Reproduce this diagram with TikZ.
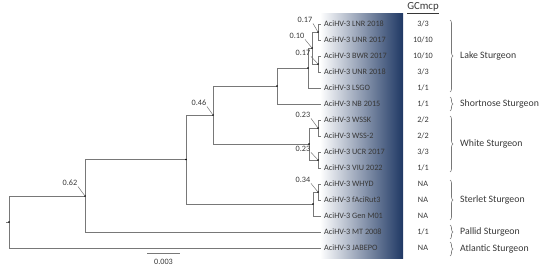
\documentclass[tikz,border=0pt]{standalone}
\usepackage{fontspec}
\setmainfont{Carlito}
\usetikzlibrary{decorations.pathreplacing,calc}
\definecolor{navyg}{RGB}{31,56,100}
\definecolor{midblue}{RGB}{165,186,216}
\definecolor{treeg}{RGB}{120,120,120}
\definecolor{txt}{RGB}{55,55,55}
\begin{document}
\begin{tikzpicture}[x=1pt,y=-1pt,
  br/.style={draw=treeg,line width=0.7pt},
  leaf/.style={anchor=west,inner xsep=3pt,inner ysep=0pt,font=\fontsize{8.2}{9}\selectfont,text=txt},
  gc/.style={font=\fontsize{8.2}{9}\selectfont,text=txt,inner sep=0pt},
  boot/.style={font=\fontsize{8.2}{9}\selectfont,text=txt,inner sep=0.5pt},
  lead/.style={draw=treeg,line width=0.5pt},
  grp/.style={anchor=west,font=\fontsize{9.8}{10}\selectfont,text=txt,inner sep=0pt},
  brc/.style={draw=treeg,line width=0.6pt,decorate,decoration={brace,amplitude=3pt}},
  dot/.style={fill=black,circle,inner sep=0pt,minimum size=1.6pt}]
\useasboundingbox (0,0) rectangle (550,270);
% gradient column
\shade[left color=white,middle color=midblue,right color=navyg] (320,14) rectangle (403,258);
% internal nodes
\coordinate (rootstub) at (6,222);
\coordinate (root) at (9,222);
\coordinate (n062) at (85,196);
\coordinate (na) at (186,159.5);
\coordinate (n046) at (213,115);
\coordinate (nls) at (277,86);
\coordinate (nlake) at (308,68);
\coordinate (n010) at (312,48);
\coordinate (n017a) at (318,32);
\coordinate (n017b) at (318,64);
\coordinate (nw) at (309,144);
\coordinate (n023a) at (318,128);
\coordinate (n023b) at (318,160);
\coordinate (nst) at (313,204);
\coordinate (n034) at (318,192);
% leaves
\node[leaf] (l1) at (321,24) {AciHV-3 LNR 2018};
\node[leaf] (l2) at (321,40) {AciHV-3 UNR 2017};
\node[leaf] (l3) at (321,56) {AciHV-3 BWR 2017};
\node[leaf] (l4) at (321,72) {AciHV-3 UNR 2018};
\node[leaf] (l5) at (321,88) {AciHV-3 LSGO};
\node[leaf] (l6) at (321,104) {AciHV-3 NB 2015};
\node[leaf] (l7) at (321,120) {AciHV-3 WSSK};
\node[leaf] (l8) at (321,136) {AciHV-3 WSS-2};
\node[leaf] (l9) at (321,152) {AciHV-3 UCR 2017};
\node[leaf] (l10) at (321,168) {AciHV-3 VIU 2022};
\node[leaf] (l11) at (321,184) {AciHV-3 WHYD};
\node[leaf] (l12) at (321,200) {AciHV-3 fAciRut3};
\node[leaf] (l13) at (321,216) {AciHV-3 Gen M01};
\node[leaf] (l14) at (321,232) {AciHV-3 MT 2008};
\node[leaf] (l15) at (321,248) {AciHV-3 JABEPO};
% branches
\draw[br] (rootstub) -- (root);
\draw[br] (root) |- (n062);
\draw[br] (root) |- (l15.west);
\draw[br] (n062) |- (na);
\draw[br] (n062) |- (l14.west);
\draw[br] (na) |- (n046);
\draw[br] (na) |- (nst);
\draw[br] (n046) |- (nls);
\draw[br] (n046) |- (nw);
\draw[br] (nls) |- (nlake);
\draw[br] (nls) |- (l6.west);
\draw[br] (nlake) |- (n010);
\draw[br] (nlake) |- (l5.west);
\draw[br] (n010) |- (n017a);
\draw[br] (n010) |- (n017b);
\draw[br] (n017a) |- (l1.west);
\draw[br] (n017a) |- (l2.west);
\draw[br] (n017b) |- (l3.west);
\draw[br] (n017b) |- (l4.west);
\draw[br] (nw) |- (n023a);
\draw[br] (nw) |- (n023b);
\draw[br] (n023a) |- (l7.west);
\draw[br] (n023a) |- (l8.west);
\draw[br] (n023b) |- (l9.west);
\draw[br] (n023b) |- (l10.west);
\draw[br] (nst) |- (n034);
\draw[br] (nst) |- (l13.west);
\draw[br] (n034) |- (l11.west);
\draw[br] (n034) |- (l12.west);
% node dots
\foreach \n in {root,n062,na,n046,nls,nlake,n010,n017a,n017b,nw,n023a,n023b,nst,n034}
  \node[dot] at (\n) {};
% support values
\node[boot] (b062) at (70,183) {0.62};
\node[boot] (b046) at (199,103) {0.46};
\node[boot] (b017a) at (305,20) {0.17};
\node[boot] (b010) at (297,36) {0.10};
\node[boot] (b017b) at (303,53) {0.17};
\node[boot] (b023a) at (303,115) {0.23};
\node[boot] (b023b) at (303,149) {0.23};
\node[boot] (b034) at (303,180) {0.34};
\draw[lead] (b062.south east) -- (n062);
\draw[lead] (b046.south east) -- (n046);
\draw[lead] (b017a.south east) -- (n017a);
\draw[lead] (b010.south east) -- (n010);
\draw[lead] (b017b.south east) -- (n017b);
\draw[lead] (b023a.south east) -- (n023a);
\draw[lead] (b023b.south east) -- (n023b);
\draw[lead] (b034.south east) -- (n034);
% GCmcp column
\node[font=\fontsize{10.8}{11}\selectfont,text=txt,inner sep=0pt] (gch) at (423,8) {\underline{GCmcp}};
\foreach \y/\v [count=\i] in {24/3\slash 3,40/10\slash 10,56/10\slash 10,72/3\slash 3,88/1\slash 1,104/1\slash 1,120/2\slash 2,136/2\slash 2,152/3\slash 3,168/1\slash 1,184/NA,200/NA,216/NA,232/1\slash 1,248/NA}
  \node[gc] (g\i) at (423,\y) {\v};
% braces
\coordinate (ba1) at (450,20);  \coordinate (bb1) at (450,92);
\coordinate (ba2) at (450,97);  \coordinate (bb2) at (450,111);
\coordinate (ba3) at (450,116); \coordinate (bb3) at (450,172);
\coordinate (ba4) at (450,180); \coordinate (bb4) at (450,220);
\coordinate (ba5) at (450,225); \coordinate (bb5) at (450,239);
\coordinate (ba6) at (450,242); \coordinate (bb6) at (450,256);
\draw[brc] (ba1) -- (bb1);
\draw[brc] (ba2) -- (bb2);
\draw[brc] (ba3) -- (bb3);
\draw[brc] (ba4) -- (bb4);
\draw[brc] (ba5) -- (bb5);
\draw[brc] (ba6) -- (bb6);
\node[grp] (s1) at (460,56) {Lake Sturgeon};
\node[grp] (s2) at (460,104) {Shortnose Sturgeon};
\node[grp] (s3) at (460,144) {White Sturgeon};
\node[grp] (s4) at (460,200) {Sterlet Sturgeon};
\node[grp] (s5) at (460,232) {Pallid Sturgeon};
\node[grp] (s6) at (460,249) {Atlantic Sturgeon};
% scale bar
\coordinate (sb1) at (147,253);
\coordinate (sb2) at (180,253);
\draw[br] (sb1) -- (sb2);
\node[boot] (sbl) at (163.5,262) {0.003};
\end{tikzpicture}
\end{document}
